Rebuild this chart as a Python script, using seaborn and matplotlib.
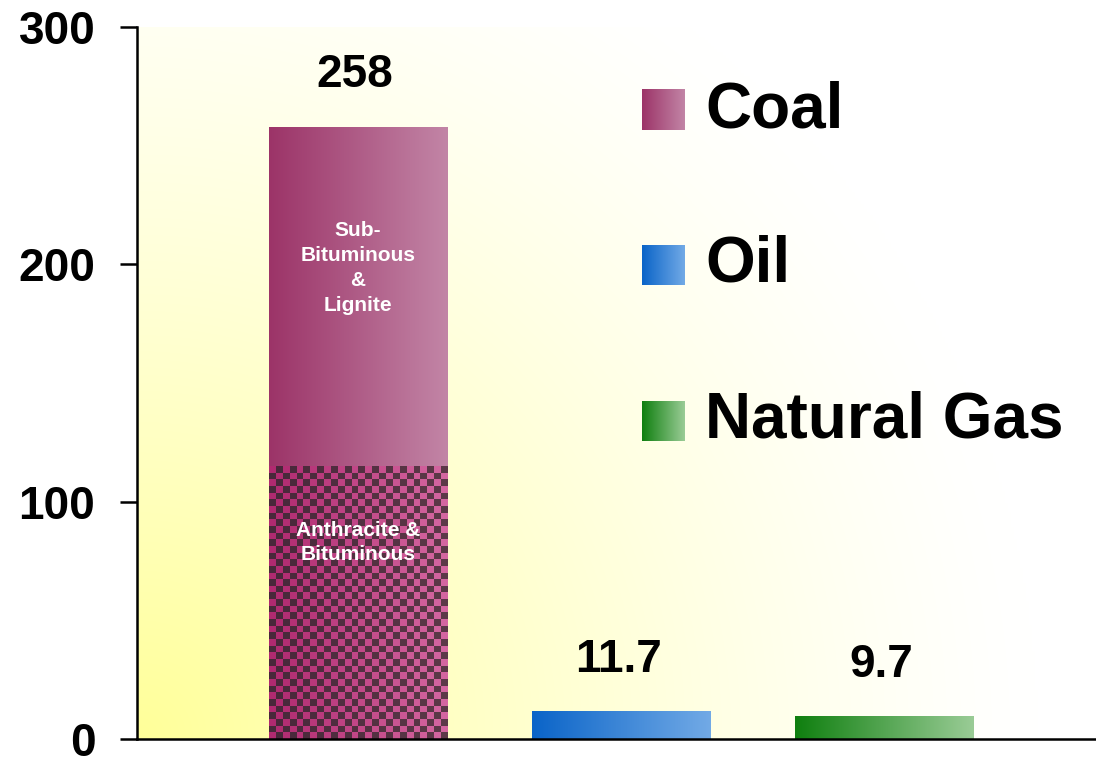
import numpy as np
import pandas as pd
import matplotlib
matplotlib.use("Agg")
import matplotlib.pyplot as plt
import matplotlib.colors as mcolors
import seaborn as sns

# data
fuels = ["Coal", "Oil", "Natural Gas"]
reserves = [258, 11.7, 9.7]
coal_hard = 115  # anthracite & bituminous part of coal
value_labels = ["258", "11.7", "9.7"]

grad_left = ["#9c3468", "#0a64c8", "#0f7f0f"]
grad_right = ["#c285a6", "#72aae6", "#9acc96"]

sns.set_theme(style="white")
plt.rcParams["font.family"] = ["Liberation Sans", "DejaVu Sans"]
plt.rcParams["font.weight"] = "bold"
plt.rcParams["text.color"] = "black"
plt.rcParams["ytick.color"] = "black"
plt.rcParams["ytick.labelcolor"] = "black"


def hgrad(c0, c1, n=256):
    a = np.array(mcolors.to_rgb(c0))
    b = np.array(mcolors.to_rgb(c1))
    t = np.linspace(0, 1, n)[None, :, None]
    return a + (b - a) * t


fig = plt.figure(figsize=(10.96, 7.58), dpi=100)
ax = fig.add_axes([137 / 1096, 19 / 758, 1 - 137 / 1096, 712 / 758])

df = pd.DataFrame({"fuel": fuels, "reserves": reserves})
sns.barplot(data=df, x="fuel", y="reserves", hue="fuel", palette=grad_left,
            width=0.68, legend=False, ax=ax, zorder=2)
bars = list(ax.patches)

# gradient fill for each bar
for p, c0, c1 in zip(bars, grad_left, grad_right):
    p.set_facecolor("none")
    p.set_edgecolor("none")
    x0, y0 = p.get_x(), p.get_y()
    im = ax.imshow(np.repeat(hgrad(c0, c1), 2, axis=0),
                   extent=[x0, x0 + p.get_width(), y0, y0 + p.get_height()],
                   aspect="auto", zorder=2, interpolation="bilinear")
    im.set_clip_path(p)

# checkered lower part of the coal bar
cb = bars[0]
nx, ny = 26, 41
pink = hgrad("#b02a70", "#d466a0", nx)[0]
dark = hgrad("#48283a", "#5c3848", nx)[0]
chk = np.zeros((ny, nx, 3))
for i in range(ny):
    for j in range(nx):
        chk[i, j] = dark[j] if (i + j) % 2 else pink[j]
ax.imshow(chk, extent=[cb.get_x(), cb.get_x() + cb.get_width(), 0, coal_hard],
          aspect="auto", zorder=3, interpolation="nearest")

# labels inside the coal bar
cx = cb.get_x() + cb.get_width() / 2
ax.text(cx, (coal_hard + reserves[0]) / 2 + 12, "Sub-\nBituminous\n&\nLignite",
        ha="center", va="center", color="white", fontsize=15,
        fontweight="bold", linespacing=1.4, zorder=5)
ax.text(cx, coal_hard * 0.72, "Anthracite &\nBituminous",
        ha="center", va="center", color="white", fontsize=15,
        fontweight="bold", linespacing=1.35, zorder=5)

# value labels
for p, lab in zip(bars, value_labels):
    ax.annotate(lab, (p.get_x() + p.get_width() / 2, p.get_height()),
                xytext=(-2, 37), textcoords="offset points", ha="center",
                va="center", fontsize=33, fontweight="bold", zorder=5)

# yellow background, strongest in the lower left corner
h, w = 240, 320
yy, xx = np.mgrid[0:712:h * 1j, 0:959:w * 1j]
d = np.hypot(xx, yy)
s = np.clip(1 - d / 900, 0, 1) ** 1.3
bg = np.ones((h, w, 3))
bg[..., 2] = 1 - 0.4 * s
ax.imshow(bg, extent=[0, 1, 0, 1], transform=ax.transAxes, origin="lower",
          aspect="auto", zorder=0, interpolation="bilinear")

ax.set_xlim(-0.84, 2.806)
ax.set_ylim(0, 300)
ax.set_yticks([0, 100, 200, 300])
ax.set_xticks([])
ax.set_xlabel("")
ax.set_ylabel("")
ax.tick_params(axis="y", labelsize=33, length=12, width=1.8, pad=18,
               left=True, direction="out", color="black", labelcolor="black")
for t in ax.get_yticklabels():
    t.set_fontweight("bold")
sns.despine(ax=ax, top=True, right=True)
for side in ["left", "bottom"]:
    ax.spines[side].set_color("black")
    ax.spines[side].set_linewidth(1.8)
    ax.spines[side].set_zorder(6)

# legend with gradient squares
leg_y = [110, 265, 421]
for name, c0, c1, yc in zip(fuels, grad_left, grad_right, leg_y):
    lax = fig.add_axes([642 / 1096, (758 - yc - 20.5) / 758, 42 / 1096, 41 / 758])
    lax.imshow(np.repeat(hgrad(c0, c1), 2, axis=0), aspect="auto")
    lax.axis("off")
    fig.text(705 / 1096, (758 - yc) / 758, name, ha="left", va="center",
             fontsize=46, fontweight="bold", color="black")

fig.savefig("out.png", dpi=100)
